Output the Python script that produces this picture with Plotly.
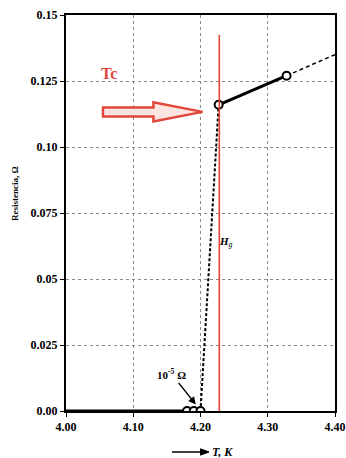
import plotly.graph_objects as go

# Resistance of mercury near its superconducting transition
t_base = [4.00, 4.20]          # superconducting plateau, K
r_base = [0.0, 0.0]
t_zero = [4.18, 4.19, 4.20]    # measured points at ~1e-5 ohm
r_zero = [0.0, 0.0, 0.0]
t_jump = [4.20, 4.227]         # steep rise at the transition
r_jump = [0.0, 0.116]
t_norm = [4.227, 4.328]        # normal state measurements
r_norm = [0.116, 0.127]
t_extr = [4.328, 4.40]         # extrapolated normal state
r_extr = [0.127, 0.135]

tc_value = 4.228
x_ticks = [4.00, 4.10, 4.20, 4.30, 4.40]
x_tick_text = ["4.00", "4.10", "4.20", "4.30", "4.40"]
y_ticks = [0.0, 0.025, 0.05, 0.075, 0.10, 0.125, 0.15]
y_tick_text = ["0.00", "0.025", "0.05", "0.075", "0.10", "0.125", "0.15"]

SERIF = "Liberation Serif"
RED = "#e0463c"

fig = go.Figure()

fig.add_trace(go.Scatter(x=t_base, y=r_base, mode="lines",
                         line=dict(color="black", width=3), hoverinfo="skip"))
fig.add_trace(go.Scatter(x=t_jump, y=r_jump, mode="lines",
                         line=dict(color="black", width=2, dash="3px,2px"), hoverinfo="skip"))
fig.add_trace(go.Scatter(x=t_extr, y=r_extr, mode="lines",
                         line=dict(color="black", width=1.5, dash="4px,3px"), hoverinfo="skip"))
fig.add_trace(go.Scatter(x=t_norm, y=r_norm, mode="lines+markers",
                         line=dict(color="black", width=3),
                         marker=dict(symbol="circle", size=8, color="white",
                                     line=dict(color="black", width=2))))
fig.add_trace(go.Scatter(x=t_zero, y=r_zero, mode="markers",
                         marker=dict(symbol="circle", size=8, color="white",
                                     line=dict(color="black", width=2))))

# Critical temperature marker
fig.add_shape(type="line", x0=tc_value, x1=tc_value, y0=-0.002, y1=0.1425,
              xref="x", yref="y", line=dict(color=RED, width=1.6), layer="above")

# Hollow arrow pointing at the transition
ax0, ax1, ax2 = 4.055, 4.130, 4.203
ay, sh, hh = 0.1133, 0.0017, 0.0036
arrow_path = (f"M {ax0},{ay - sh} L {ax1},{ay - sh} L {ax1},{ay - hh} L {ax2},{ay} "
              f"L {ax1},{ay + hh} L {ax1},{ay + sh} L {ax0},{ay + sh} Z")
fig.add_shape(type="path", path=arrow_path, xref="x", yref="y",
              line=dict(color=RED, width=2.5), fillcolor="#fbe3e0", layer="above")

fig.add_annotation(x=4.064, y=0.128, text="<b>Tc</b>", showarrow=False,
                   font=dict(family=SERIF, size=16, color=RED))
fig.add_annotation(x=4.238, y=0.064, text="<i><b>H</b></i><sub><i>g</i></sub>",
                   showarrow=False, font=dict(family=SERIF, size=11, color="black"))
# Label for the near-zero readings, with a pointer to the middle point
fig.add_annotation(x=4.193, y=0.0025, text="<b>10<sup>-5</sup> Ω</b>", showarrow=True,
                   ax=-24, ay=-30, arrowhead=2, arrowsize=1, arrowwidth=1.5,
                   arrowcolor="black", font=dict(family=SERIF, size=11, color="black"))

# Axis titles
fig.add_annotation(xref="paper", yref="paper", x=-0.19, y=0.55,
                   xanchor="center", yanchor="middle",
                   text="<b>Resistencia, Ω</b>", textangle=-90, showarrow=False,
                   font=dict(family=SERIF, size=9, color="black"))
ty = -0.1035
fig.add_shape(type="line", xref="paper", yref="paper", x0=0.394, x1=0.51, y0=ty, y1=ty,
              line=dict(color="black", width=1.5))
fig.add_shape(type="path", xref="paper", yref="paper",
              path=f"M 0.50,{ty - 0.008} L 0.532,{ty} L 0.50,{ty + 0.008} Z",
              line=dict(color="black", width=1), fillcolor="black")
fig.add_annotation(xref="paper", yref="paper", x=0.582, y=ty,
                   xanchor="center", yanchor="middle",
                   text="<b><i>T, K</i></b>", showarrow=False,
                   font=dict(family=SERIF, size=12, color="black"))

axis_common = dict(
    showline=True, linecolor="black", linewidth=2, mirror=True,
    showgrid=True, gridcolor="#8a8a8a", gridwidth=1, griddash="dot",
    ticks="outside", ticklen=4, tickcolor="black", zeroline=False, automargin=False,
    tickfont=dict(family=SERIF, size=12, color="black", weight=700),
)

fig.update_layout(
    width=346, height=458,
    margin=dict(l=66, r=11, t=15, b=47),
    paper_bgcolor="white", plot_bgcolor="white",
    showlegend=False,
    xaxis=dict(range=[4.0, 4.4], tickvals=x_ticks, ticktext=x_tick_text, **axis_common),
    yaxis=dict(range=[0.0, 0.15], tickvals=y_ticks, ticktext=y_tick_text, **axis_common),
)

fig.write_html("out.html")
